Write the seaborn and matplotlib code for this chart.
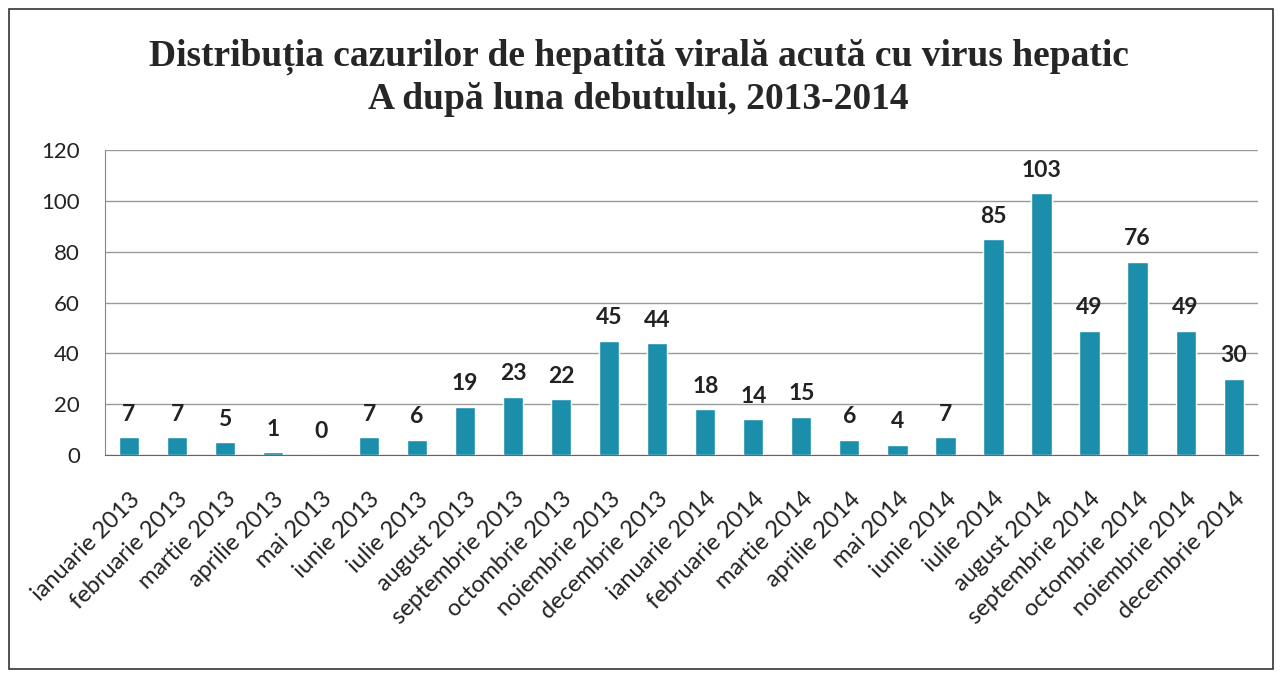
import matplotlib
matplotlib.use("Agg")
import matplotlib.pyplot as plt
import seaborn as sns
import pandas as pd
from matplotlib.patches import Rectangle

months = ["ianuarie", "februarie", "martie", "aprilie", "mai", "iunie",
          "iulie", "august", "septembrie", "octombrie", "noiembrie", "decembrie"]
years = ["2013", "2014"]
labels = [f"{m} {y}" for y in years for m in months]
cases = [7, 7, 5, 1, 0, 7, 6, 19, 23, 22, 45, 44,
         18, 14, 15, 6, 4, 7, 85, 103, 49, 76, 49, 30]

df = pd.DataFrame({"luna": labels, "cazuri": cases})

sns.set_style("white")
plt.rcParams["font.family"] = ["Lato", "DejaVu Sans"]

fig = plt.figure(figsize=(12.85, 6.77), dpi=100)
ax = fig.add_axes([0.0817, 0.328, 0.897, 0.45])

sns.barplot(data=df, x="luna", y="cazuri", color="#1b8eac", width=0.42,
            saturation=1, ax=ax)

ax.bar_label(ax.containers[0], fontsize=16.5, fontweight="bold", padding=9,
             color="#222222")

ax.set_ylim(0, 120)
ax.set_yticks(range(0, 121, 20))
ax.set_xlim(-0.5, len(labels) - 0.5)
ax.yaxis.grid(True, color="#9a9a9a", linewidth=1)
ax.set_axisbelow(True)
ax.set_xlabel("")
ax.set_ylabel("")

for s in ["top", "right"]:
    ax.spines[s].set_visible(False)
ax.spines["left"].set_color("#888888")
ax.spines["bottom"].set_color("#666666")

ax.tick_params(axis="y", labelsize=16, length=6, width=1, color="#9a9a9a",
               direction="out", pad=12, colors="#222222")
ax.tick_params(axis="y", color="#9a9a9a")
ax.tick_params(axis="x", which="major", length=0, labelsize=17,
               colors="#222222", pad=24)
ax.set_xticks([i - 0.5 for i in range(len(labels) + 1)], minor=True)
ax.tick_params(axis="x", which="minor", length=6, color="#666666",
               direction="out")
plt.setp(ax.get_xticklabels(), rotation=45, ha="right",
         rotation_mode="anchor")

fig.text(0.497, 0.885,
         "Distribuția cazurilor de hepatită virală acută cu virus hepatic\n"
         "A după luna debutului, 2013-2014",
         ha="center", va="center", fontsize=27, fontweight="bold",
         family=["Liberation Serif", "DejaVu Serif"], linespacing=1.25)

fig.patches.append(Rectangle((0.007, 0.012), 0.984, 0.975,
                             transform=fig.transFigure, fill=False,
                             edgecolor="#333333", linewidth=1.2))

fig.savefig("out.png", dpi=100, facecolor="white")
